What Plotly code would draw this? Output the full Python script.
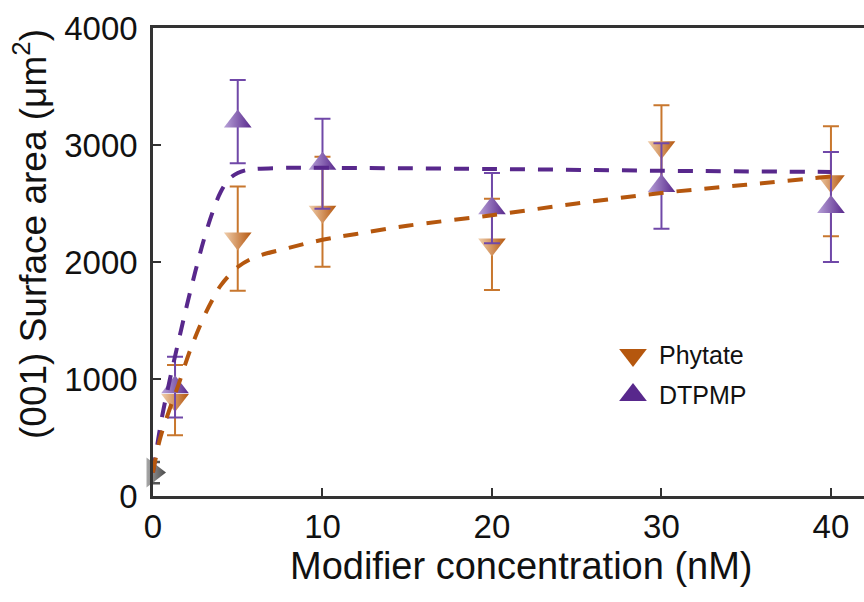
import plotly.graph_objects as go

# ---- data ----
conc = [1.3, 5, 10, 20, 30, 40]
phytate = [820, 2200, 2430, 2150, 2980, 2690]
phytate_err = [300, 445, 470, 390, 360, 470]
dtpmp = [930, 3200, 2840, 2460, 2650, 2470]
dtpmp_err = [260, 355, 385, 300, 365, 470]

ctrl_x = [0]
ctrl_y = [200]
ctrl_err = [90]

fit_p_x = [0, 0.4, 1, 1.5, 2.2, 3, 3.5, 4, 5, 6, 8, 10, 12, 15, 20, 25, 30, 35, 40]
fit_p_y = [200, 480, 750, 950, 1250, 1530, 1675, 1800, 1957, 2040, 2120, 2190, 2240, 2310, 2400, 2500, 2590, 2660, 2730]
fit_d_x = [0, 0.5, 1, 1.5, 2, 2.5, 3, 3.5, 4, 4.5, 5, 5.5, 6, 8, 10, 20, 30, 40]
fit_d_y = [200, 650, 1000, 1320, 1630, 1920, 2190, 2420, 2600, 2710, 2760, 2785, 2795, 2805, 2805, 2795, 2780, 2770]

x_ticks = [0, 10, 20, 30, 40]
y_ticks = [0, 1000, 2000, 3000, 4000]

legend_names = ["Phytate", "DTPMP"]

ORANGE = "#B5570E"
ORANGE_LIGHT = "#F0CFAE"
ORANGE_ERR = "#C8772E"
PURPLE = "#58288C"
PURPLE_LIGHT = "#B8A2D8"
PURPLE_ERR = "#7048A8"
FONT = "Arial, Liberation Sans, sans-serif"
MSIZE = 24

fig = go.Figure()

# control point
fig.add_trace(go.Scatter(
    x=ctrl_x, y=ctrl_y, mode="markers", showlegend=False, cliponaxis=False,
    marker=dict(symbol="triangle-right", size=26, color="#A8A8A8",
                gradient=dict(type="horizontal", color="#4A4A4A"),
                line=dict(width=0)),
    error_y=dict(type="data", array=ctrl_err, color="#555555", thickness=2.5, width=7),
))

# data series
fig.add_trace(go.Scatter(
    x=conc, y=phytate, mode="markers", showlegend=False, cliponaxis=False,
    marker=dict(symbol="triangle-down", size=MSIZE, color=ORANGE_LIGHT,
                gradient=dict(type="horizontal", color=ORANGE),
                line=dict(width=0)),
    error_y=dict(type="data", array=phytate_err, color=ORANGE_ERR, thickness=2, width=8),
))
fig.add_trace(go.Scatter(
    x=conc, y=dtpmp, mode="markers", showlegend=False, cliponaxis=False,
    marker=dict(symbol="triangle-up", size=MSIZE, color=PURPLE_LIGHT,
                gradient=dict(type="horizontal", color=PURPLE),
                line=dict(width=0)),
    error_y=dict(type="data", array=dtpmp_err, color=PURPLE_ERR, thickness=2, width=8),
))

# fits
fig.add_trace(go.Scatter(
    x=fit_d_x, y=fit_d_y, mode="lines", showlegend=False, line_shape="spline",
    line=dict(color=PURPLE, width=4, dash="15px,13px"),
))
fig.add_trace(go.Scatter(
    x=fit_p_x, y=fit_p_y, mode="lines", showlegend=False, line_shape="spline",
    line=dict(color=ORANGE, width=4, dash="15px,13px"),
))

# custom legend on an overlay axis (paper-like 0..1 coordinates)
leg_x = (633 - 153) / 711
leg_y = [(496 - 355) / 468, (496 - 395) / 468]
fig.add_trace(go.Scatter(
    x=[leg_x], y=[leg_y[0]], xaxis="x2", yaxis="y2", mode="markers",
    showlegend=False, hoverinfo="skip",
    marker=dict(symbol="triangle-down", size=MSIZE, color=ORANGE, line=dict(width=0)),
))
fig.add_trace(go.Scatter(
    x=[leg_x], y=[leg_y[1]], xaxis="x2", yaxis="y2", mode="markers",
    showlegend=False, hoverinfo="skip",
    marker=dict(symbol="triangle-up", size=MSIZE, color=PURPLE, line=dict(width=0)),
))

axis_common = dict(
    showline=True, linecolor="#333333", linewidth=2.5,
    ticks="inside", ticklen=8, tickwidth=1.5, tickcolor="#333333",
    showgrid=False, zeroline=False,
    tickfont=dict(family=FONT, size=33, color="#111111"),
)

annotations = [
    dict(text="Modifier concentration (nM)", xref="paper", yref="paper",
         x=(521 - 153) / 711, y=-0.1, xanchor="center", yanchor="top",
         showarrow=False, font=dict(family=FONT, size=38, color="#111111")),
    dict(text="(001) Surface area (μm<sup>2</sup>)", xref="paper", yref="paper",
         x=(30 - 153) / 711, y=(496 - 234) / 468, xanchor="center", yanchor="middle",
         textangle=-90, showarrow=False,
         font=dict(family=FONT, size=37, color="#111111")),
]
for name, yy in zip(legend_names, leg_y):
    annotations.append(dict(
        text=name, xref="paper", yref="paper", x=(657 - 153) / 711, y=yy,
        xanchor="left", yanchor="middle", showarrow=False,
        font=dict(family=FONT, size=25, color="#111111")))

fig.update_layout(
    width=864, height=602,
    margin=dict(l=153, r=0, t=28, b=106),
    paper_bgcolor="white", plot_bgcolor="white",
    xaxis=dict(range=[0, 41.95], tickvals=x_ticks, mirror=True,
               ticklabelstandoff=0, **axis_common),
    yaxis=dict(range=[0, 4000], tickvals=y_ticks,
               ticklabelstandoff=6, **axis_common),
    xaxis2=dict(overlaying="x", range=[0, 1], visible=False, anchor="y2"),
    yaxis2=dict(overlaying="y", range=[0, 1], visible=False, anchor="x2"),
    showlegend=False,
    annotations=annotations,
)

fig.write_html("out.html")
